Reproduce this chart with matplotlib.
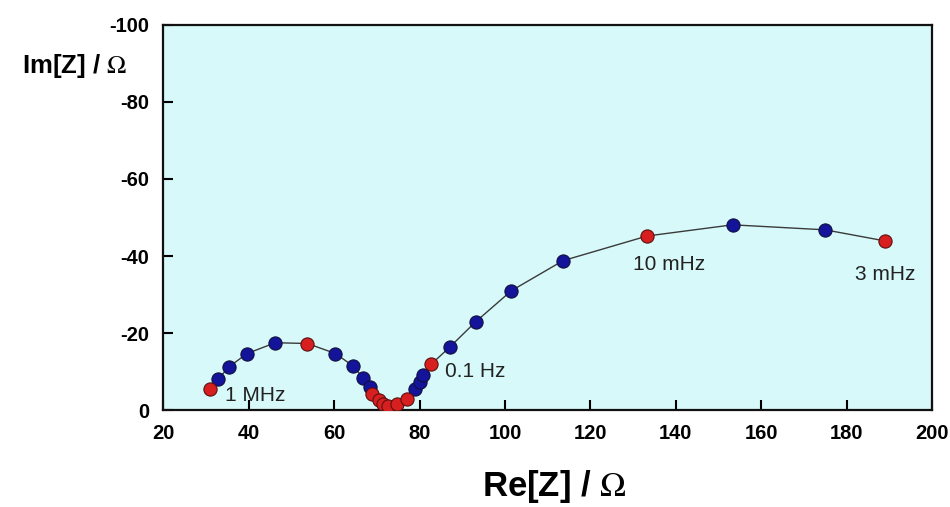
import matplotlib
matplotlib.use('Agg')
import matplotlib.pyplot as plt

# Nyquist data, high frequency (left) to low frequency (right)
re_z = [30.8, 32.9, 35.3, 39.6, 46.2, 53.7, 60.3, 64.5, 66.8, 68.4,
        68.9, 70.5, 71.5, 72.7, 74.6, 77.0, 79.0, 80.2, 80.8, 82.7,
        87.1, 93.1, 101.5, 113.6, 133.3, 153.3, 175.0, 189.1]
im_z = [-5.5, -8.1, -11.2, -14.7, -17.5, -17.3, -14.7, -11.4, -8.3, -6.1,
        -4.3, -2.6, -1.5, -1.1, -1.7, -3.0, -5.6, -7.2, -9.1, -11.9,
        -16.4, -22.9, -31.0, -38.8, -45.2, -48.1, -46.8, -43.9]
# 1 = decade marker (red), 0 = ordinary point (blue)
marked = [1, 0, 0, 0, 0, 1, 0, 0, 0, 0,
          1, 1, 1, 1, 1, 1, 0, 0, 0, 1,
          0, 0, 0, 0, 1, 0, 0, 1]

freq_labels = ['1 MHz', '0.1 Hz', '10 mHz', '3 mHz']
label_pos = [(34.5, -3.9, 'left'), (86.0, -10.1, 'left'),
             (138.5, -37.9, 'center'), (189.1, -35.1, 'center')]

plt.rcParams['font.family'] = ['Liberation Sans', 'DejaVu Sans']
plt.rcParams['mathtext.fontset'] = 'stix'
plt.rcParams['axes.unicode_minus'] = False

fig = plt.figure(figsize=(9.5, 5.07), dpi=100)
ax = fig.add_axes([0.172, 0.191, 0.809, 0.760])
ax.set_facecolor('#d8f9f9')

ax.plot(re_z, im_z, color='#3a3a3a', lw=1.0, zorder=2)

blue_x = [x for x, m in zip(re_z, marked) if not m]
blue_y = [y for y, m in zip(im_z, marked) if not m]
red_x = [x for x, m in zip(re_z, marked) if m]
red_y = [y for y, m in zip(im_z, marked) if m]
ax.plot(blue_x, blue_y, 'o', ms=9.5, mfc='#14149a', mec='#101040', mew=0.8, zorder=3)
ax.plot(red_x, red_y, 'o', ms=9.5, mfc='#d81f1f', mec='#5a1010', mew=0.8, zorder=4)

for txt, (x, y, ha) in zip(freq_labels, label_pos):
    ax.text(x, y, txt, fontsize=15, color='#222222', ha=ha, va='center', zorder=5)

ax.set_xlim(20, 200)
ax.set_ylim(0, -100)
ax.set_xticks(range(20, 201, 20))
ax.set_yticks(range(0, -101, -20))
ax.tick_params(direction='in', length=7, width=1.5, pad=10,
               labelsize=14.5, top=False, right=False)
for lab in ax.get_xticklabels() + ax.get_yticklabels():
    lab.set_fontweight('bold')
for sp in ax.spines.values():
    sp.set_linewidth(1.6)
    sp.set_color('#111111')

fig.text(0.584, 0.04, r'Re[Z] / $\Omega$', fontsize=25, fontweight='bold',
         ha='center', va='center')
fig.text(0.078, 0.870, r'Im[Z] / $\Omega$', fontsize=18.5, fontweight='bold',
         ha='center', va='center')

fig.savefig('out.png', dpi=100)
